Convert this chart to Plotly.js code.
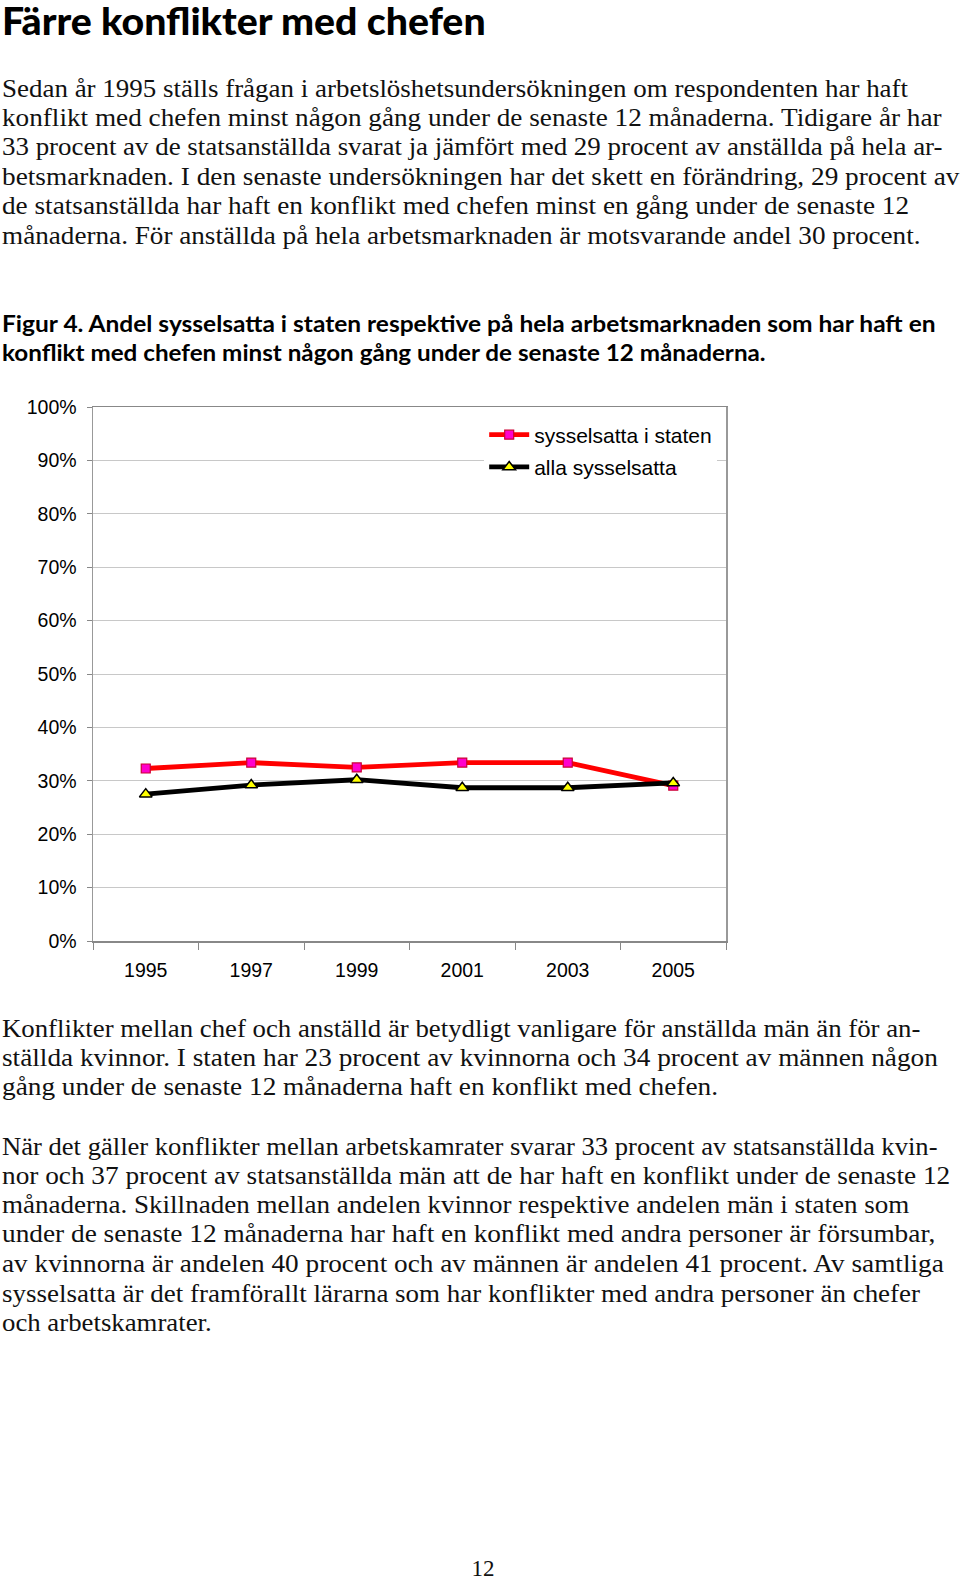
<!DOCTYPE html>
<html>
<head>
<meta charset="utf-8">
<script src="https://cdn.plot.ly/plotly-3.0.1.min.js"></script>
<style>
  html, body { margin: 0; padding: 0; background: #fff; }
  body { width: 960px; height: 1581px; position: relative; overflow: hidden; }
  .ln { position: absolute; left: 2px; white-space: nowrap; line-height: 30px; height: 30px;
        font-family: "Liberation Serif", "DejaVu Serif", serif; font-size: 25px; color: #111;
        transform-origin: 0 50%; display: inline-block; }
  .ttl { font-family: Lato, "Open Sans", sans-serif; font-weight: 900; font-size: 38px; line-height: 40px; height: 40px; color: #000; }
  .cap { font-family: Lato, "Open Sans", sans-serif; font-weight: 700; font-size: 23px; color: #000; }
  #chart { position: absolute; left: 0; top: 380px; width: 760px; height: 620px; }
</style>
</head>
<body>
<div class="ln ttl" data-c="20" data-w="484">Färre konflikter med chefen</div>

<div class="ln" data-c="88.7" data-w="906">Sedan år 1995 ställs frågan i arbetslöshetsundersökningen om respondenten har haft</div>
<div class="ln" data-c="118" data-w="940">konflikt med chefen minst någon gång under de senaste 12 månaderna. Tidigare år har</div>
<div class="ln" data-c="147.2" data-w="940">33 procent av de statsanställda svarat ja jämfört med 29 procent av anställda på hela ar-</div>
<div class="ln" data-c="176.5" data-w="958">betsmarknaden. I den senaste undersökningen har det skett en förändring, 29 procent av</div>
<div class="ln" data-c="205.7" data-w="907">de statsanställda har haft en konflikt med chefen minst en gång under de senaste 12</div>
<div class="ln" data-c="236" data-w="918">månaderna. För anställda på hela arbetsmarknaden är motsvarande andel 30 procent.</div>

<div class="ln cap" data-c="322.7" data-w="934">Figur 4. Andel sysselsatta i staten respektive på hela arbetsmarknaden som har haft en</div>
<div class="ln cap" data-c="352" data-w="764">konflikt med chefen minst någon gång under de senaste 12 månaderna.</div>

<div id="chart"></div>

<div class="ln" data-c="1028.6" data-w="918">Konflikter mellan chef och anställd är betydligt vanligare för anställda män än för an-</div>
<div class="ln" data-c="1057.8" data-w="936">ställda kvinnor. I staten har 23 procent av kvinnorna och 34 procent av männen någon</div>
<div class="ln" data-c="1087" data-w="716">gång under de senaste 12 månaderna haft en konflikt med chefen.</div>

<div class="ln" data-c="1146.5" data-w="936">När det gäller konflikter mellan arbetskamrater svarar 33 procent av statsanställda kvin-</div>
<div class="ln" data-c="1175.8" data-w="948">nor och 37 procent av statsanställda män att de har haft en konflikt under de senaste 12</div>
<div class="ln" data-c="1205" data-w="907">månaderna. Skillnaden mellan andelen kvinnor respektive andelen män i staten som</div>
<div class="ln" data-c="1234.2" data-w="933">under de senaste 12 månaderna har haft en konflikt med andra personer är försumbar,</div>
<div class="ln" data-c="1263.5" data-w="942">av kvinnorna är andelen 40 procent och av männen är andelen 41 procent. Av samtliga</div>
<div class="ln" data-c="1293.8" data-w="918">sysselsatta är det framförallt lärarna som har konflikter med andra personer än chefer</div>
<div class="ln" data-c="1323" data-w="210">och arbetskamrater.</div>

<div class="ln" id="pg" data-c="1569" style="left:0;width:960px;text-align:center;padding-left:6px;box-sizing:border-box;font-size:23px;">12</div>

<script>
// ---- data ----
const years = ["1995", "1997", "1999", "2001", "2003", "2005"];
const staten = [0.323, 0.334, 0.325, 0.334, 0.334, 0.291];
const alla = [0.275, 0.292, 0.302, 0.287, 0.287, 0.296];
const seriesNames = ["sysselsatta i staten", "alla sysselsatta"];
const yTickVals = [0, 0.1, 0.2, 0.3, 0.4, 0.5, 0.6, 0.7, 0.8, 0.9, 1.0];

// ---- text layout ----
function layoutText() {
  document.querySelectorAll('.ln').forEach(el => {
    const c = parseFloat(el.dataset.c);
    const h = el.classList.contains('ttl') ? 40 : 30;
    el.style.top = (c - h / 2) + 'px';
    if (el.dataset.w) {
      const w = el.offsetWidth;
      if (w > 0) el.style.transform = 'scaleX(' + (parseFloat(el.dataset.w) / w) + ')';
    }
  });
}
layoutText();
if (document.fonts && document.fonts.ready) document.fonts.ready.then(layoutText);

// ---- chart ----
const tickFont = { family: '"Liberation Sans", Arial, sans-serif', size: 19.5, color: '#000' };
const legendFont = { family: '"Liberation Sans", Arial, sans-serif', size: 21, color: '#000' };
const traces = [
  {
    x: years, y: staten, name: seriesNames[0], type: 'scatter', mode: 'lines+markers',
    line: { color: '#ff0000', width: 4.8 },
    marker: { symbol: 'square', size: 9, color: '#ff00cc', line: { color: '#cc0033', width: 1.2 } },
    legendgroup: 'a'
  },
  {
    x: years, y: alla, name: seriesNames[1], type: 'scatter', mode: 'lines+markers',
    line: { color: '#000000', width: 4.8 },
    marker: { symbol: 'triangle-up', size: 11, color: '#ffff00', line: { color: '#000', width: 1.5 } },
    legendgroup: 'b'
  }
];
const layout = {
  width: 760, height: 620,
  margin: { l: 93, r: 34, t: 27, b: 59 },
  paper_bgcolor: '#fff', plot_bgcolor: '#fff',
  showlegend: true,
  legend: {
    x: 0.618, y: 0.986, xanchor: 'left', yanchor: 'top',
    bgcolor: '#fff', font: legendFont, traceorder: 'grouped', tracegroupgap: 2,
    itemwidth: 40
  },
  xaxis: {
    type: 'category', range: [-0.5, 5.5], showgrid: false, tickfont: tickFont,
    ticks: 'outside', tickson: 'boundaries', ticklen: 7, tickcolor: '#888', tickwidth: 1,
    showline: true, linecolor: '#888', linewidth: 1.5, mirror: true,
    ticklabelstandoff: 11, fixedrange: true
  },
  yaxis: {
    range: [0, 1], tickvals: yTickVals, tickformat: '.0%', tickfont: tickFont,
    showgrid: true, gridcolor: '#c8c8c8', gridwidth: 1, zeroline: false,
    ticks: 'outside', ticklen: 5, tickcolor: '#888',
    showline: true, linecolor: '#999', linewidth: 1.5, mirror: true,
    ticklabelstandoff: 6, fixedrange: true
  }
};
Plotly.newPlot('chart', traces, layout, { staticPlot: true, displayModeBar: false });
</script>
</body>
</html>
